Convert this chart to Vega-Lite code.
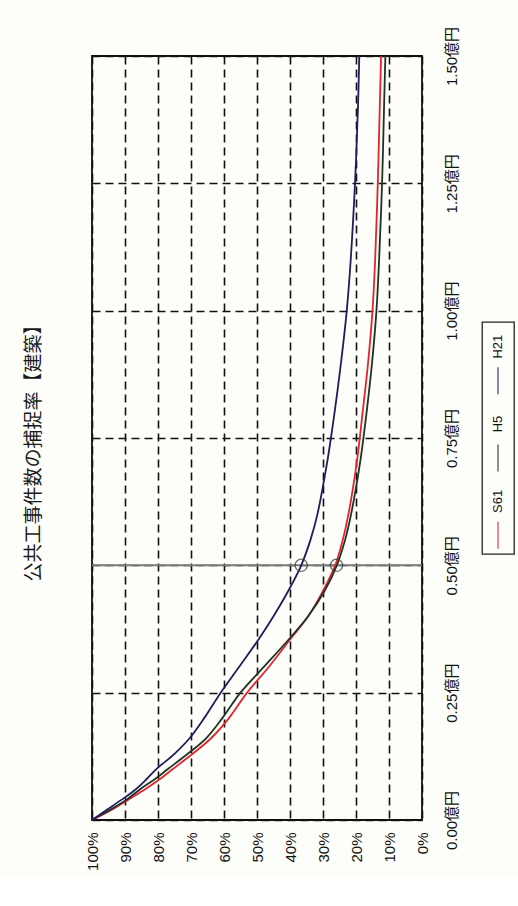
{
  "$schema": "https://vega.github.io/schema/vega-lite/v6.json",
  "background": "#fdfdf9",
  "padding": {"left": 25, "top": 25, "right": 3, "bottom": 5},
  "title": {"text": "公共工事件数の捕捉率【建築】", "orient": "left", "anchor": "middle", "font": "Noto Sans CJK JP", "fontSize": 19, "fontWeight": "normal", "color": "#1a1a1a", "offset": 40},
  "datasets": {
    "curves": [
      {"series": "S61", "amount": 0, "pct": 100},
      {"series": "S61", "amount": 0.02, "pct": 94},
      {"series": "S61", "amount": 0.04, "pct": 89},
      {"series": "S61", "amount": 0.06, "pct": 84},
      {"series": "S61", "amount": 0.08, "pct": 79.5},
      {"series": "S61", "amount": 0.1, "pct": 75.5},
      {"series": "S61", "amount": 0.13, "pct": 69.5},
      {"series": "S61", "amount": 0.16, "pct": 64},
      {"series": "S61", "amount": 0.2, "pct": 58.5},
      {"series": "S61", "amount": 0.25, "pct": 53},
      {"series": "S61", "amount": 0.3, "pct": 46.5},
      {"series": "S61", "amount": 0.35, "pct": 40.5},
      {"series": "S61", "amount": 0.4, "pct": 34.5},
      {"series": "S61", "amount": 0.45, "pct": 30},
      {"series": "S61", "amount": 0.5, "pct": 26.3},
      {"series": "S61", "amount": 0.55, "pct": 24},
      {"series": "S61", "amount": 0.6, "pct": 22.3},
      {"series": "S61", "amount": 0.7, "pct": 19.8},
      {"series": "S61", "amount": 0.8, "pct": 18},
      {"series": "S61", "amount": 0.9, "pct": 16.3},
      {"series": "S61", "amount": 1.0, "pct": 15},
      {"series": "S61", "amount": 1.1, "pct": 14.2},
      {"series": "S61", "amount": 1.25, "pct": 13.4},
      {"series": "S61", "amount": 1.4, "pct": 12.8},
      {"series": "S61", "amount": 1.5, "pct": 12.4},
      {"series": "H5", "amount": 0, "pct": 100},
      {"series": "H5", "amount": 0.02, "pct": 94.5},
      {"series": "H5", "amount": 0.04, "pct": 89.5},
      {"series": "H5", "amount": 0.06, "pct": 85.5},
      {"series": "H5", "amount": 0.08, "pct": 81},
      {"series": "H5", "amount": 0.1, "pct": 77},
      {"series": "H5", "amount": 0.13, "pct": 71},
      {"series": "H5", "amount": 0.16, "pct": 65.5},
      {"series": "H5", "amount": 0.2, "pct": 60.5},
      {"series": "H5", "amount": 0.25, "pct": 55},
      {"series": "H5", "amount": 0.3, "pct": 48},
      {"series": "H5", "amount": 0.35, "pct": 41},
      {"series": "H5", "amount": 0.4, "pct": 34.5},
      {"series": "H5", "amount": 0.45, "pct": 29.5},
      {"series": "H5", "amount": 0.5, "pct": 25.8},
      {"series": "H5", "amount": 0.55, "pct": 23.3},
      {"series": "H5", "amount": 0.6, "pct": 21.5},
      {"series": "H5", "amount": 0.7, "pct": 18.8},
      {"series": "H5", "amount": 0.8, "pct": 16.8},
      {"series": "H5", "amount": 0.9, "pct": 15.1},
      {"series": "H5", "amount": 1.0, "pct": 13.8},
      {"series": "H5", "amount": 1.1, "pct": 13},
      {"series": "H5", "amount": 1.25, "pct": 12.1},
      {"series": "H5", "amount": 1.4, "pct": 11.5},
      {"series": "H5", "amount": 1.5, "pct": 11.1},
      {"series": "H21", "amount": 0, "pct": 100},
      {"series": "H21", "amount": 0.02, "pct": 95.5},
      {"series": "H21", "amount": 0.04, "pct": 91},
      {"series": "H21", "amount": 0.06, "pct": 86.8},
      {"series": "H21", "amount": 0.08, "pct": 83.5},
      {"series": "H21", "amount": 0.1, "pct": 80.5},
      {"series": "H21", "amount": 0.13, "pct": 75},
      {"series": "H21", "amount": 0.16, "pct": 70.5},
      {"series": "H21", "amount": 0.2, "pct": 66},
      {"series": "H21", "amount": 0.25, "pct": 61},
      {"series": "H21", "amount": 0.3, "pct": 55.5},
      {"series": "H21", "amount": 0.35, "pct": 50},
      {"series": "H21", "amount": 0.4, "pct": 45},
      {"series": "H21", "amount": 0.45, "pct": 40.5},
      {"series": "H21", "amount": 0.5, "pct": 36.6},
      {"series": "H21", "amount": 0.55, "pct": 33.8},
      {"series": "H21", "amount": 0.6, "pct": 31.7},
      {"series": "H21", "amount": 0.7, "pct": 28.8},
      {"series": "H21", "amount": 0.8, "pct": 26.5},
      {"series": "H21", "amount": 0.9, "pct": 24.5},
      {"series": "H21", "amount": 1.0, "pct": 22.8},
      {"series": "H21", "amount": 1.1, "pct": 21.6},
      {"series": "H21", "amount": 1.25, "pct": 20.3},
      {"series": "H21", "amount": 1.4, "pct": 19.4},
      {"series": "H21", "amount": 1.5, "pct": 19}
    ],
    "circles": [
      {"amount": 0.5, "pct": 36.6},
      {"amount": 0.5, "pct": 25.9}
    ],
    "legend": [
      {"series": "S61"},
      {"series": "H5"},
      {"series": "H21"}
    ]
  },
  "spacing": 60,
  "bounds": "flush",
  "center": true,
  "hconcat": [
    {
      "width": 330,
      "height": 764,
      "view": {"stroke": "#111", "strokeWidth": 1.8},
      "layer": [
        {
          "data": {"values": [{}]},
          "mark": {"type": "rule", "color": "#7a7a7a", "strokeWidth": 2},
          "encoding": {
            "y": {
              "datum": 0.5, "type": "quantitative",
              "scale": {"domain": [0, 1.5], "nice": false},
              "axis": {
                "orient": "right", "values": [0, 0.25, 0.5, 0.75, 1, 1.25, 1.5],
                "labelExpr": "format(datum.value, '.2f') + '億円'", "labelAngle": -90,
                "labelAlign": "center", "labelBaseline": "top", "labelFontSize": 15,
                "labelFont": "Liberation Sans, Noto Sans CJK JP", "labelColor": "#111",
                "labelPadding": 22, "labelFlush": false, "labelOverlap": false,
                "ticks": false, "domain": false, "grid": true, "gridColor": "#111",
                "gridDash": [8, 5], "gridWidth": 1.6, "title": null
              }
            }
          }
        },
        {
          "data": {"name": "curves"},
          "mark": {"type": "line", "interpolate": "catmull-rom", "strokeWidth": 1.8},
          "encoding": {
            "x": {
              "field": "pct", "type": "quantitative",
              "scale": {"domain": [0, 100], "reverse": true, "nice": false},
              "axis": {
                "orient": "bottom", "values": [0, 10, 20, 30, 40, 50, 60, 70, 80, 90, 100],
                "labelExpr": "datum.value + '%'", "labelAngle": -90, "labelFontSize": 15,
                "labelFont": "Liberation Sans", "labelColor": "#111", "labelPadding": 12,
                "labelFlush": false, "labelOverlap": false,
                "ticks": false, "domain": false, "grid": true, "gridColor": "#111",
                "gridDash": [8, 5], "gridWidth": 1.6, "title": null
              }
            },
            "y": {
              "field": "amount", "type": "quantitative",
              "scale": {"domain": [0, 1.5], "nice": false},
              "axis": {
                "orient": "right", "values": [0, 0.25, 0.5, 0.75, 1, 1.25, 1.5],
                "labelExpr": "format(datum.value, '.2f') + '億円'", "labelAngle": -90,
                "labelAlign": "center", "labelBaseline": "top", "labelFontSize": 15,
                "labelFont": "Liberation Sans, Noto Sans CJK JP", "labelColor": "#111",
                "labelPadding": 22, "labelFlush": false, "labelOverlap": false,
                "ticks": false, "domain": false, "grid": true, "gridColor": "#111",
                "gridDash": [8, 5], "gridWidth": 1.6, "title": null
              }
            },
            "color": {
              "field": "series", "type": "nominal",
              "scale": {"domain": ["S61", "H5", "H21"], "range": ["#e3242b", "#1d3323", "#1e1e5e"]},
              "legend": null
            },
            "order": {"field": "amount", "type": "quantitative"}
          }
        },
        {
          "data": {"name": "circles"},
          "mark": {"type": "point", "shape": "circle", "filled": false, "size": 150, "stroke": "#333", "strokeWidth": 1.3},
          "encoding": {
            "x": {
              "field": "pct", "type": "quantitative",
              "scale": {"domain": [0, 100], "reverse": true, "nice": false},
              "axis": {
                "orient": "bottom", "values": [0, 10, 20, 30, 40, 50, 60, 70, 80, 90, 100],
                "labelExpr": "datum.value + '%'", "labelAngle": -90, "labelFontSize": 15,
                "labelFont": "Liberation Sans", "labelColor": "#111", "labelPadding": 12,
                "labelFlush": false, "labelOverlap": false,
                "ticks": false, "domain": false, "grid": true, "gridColor": "#111",
                "gridDash": [8, 5], "gridWidth": 1.6, "title": null
              }
            },
            "y": {
              "field": "amount", "type": "quantitative",
              "scale": {"domain": [0, 1.5], "nice": false},
              "axis": {
                "orient": "right", "values": [0, 0.25, 0.5, 0.75, 1, 1.25, 1.5],
                "labelExpr": "format(datum.value, '.2f') + '億円'", "labelAngle": -90,
                "labelAlign": "center", "labelBaseline": "top", "labelFontSize": 15,
                "labelFont": "Liberation Sans, Noto Sans CJK JP", "labelColor": "#111",
                "labelPadding": 22, "labelFlush": false, "labelOverlap": false,
                "ticks": false, "domain": false, "grid": true, "gridColor": "#111",
                "gridDash": [8, 5], "gridWidth": 1.6, "title": null
              }
            }
          }
        }
      ]
    },
    {
      "width": 32,
      "height": 232,
      "view": {"stroke": "#222", "strokeWidth": 1.3},
      "data": {"name": "legend"},
      "encoding": {
        "y": {"field": "series", "type": "nominal", "scale": {"domain": ["H21", "H5", "S61"], "paddingInner": 0, "paddingOuter": 0}, "axis": null},
        "x": {"datum": 0, "type": "quantitative", "scale": {"domain": [-1, 1]}, "axis": null}
      },
      "layer": [
        {
          "mark": {"type": "tick", "orient": "vertical", "size": 27, "thickness": 1.5, "yOffset": 20},
          "encoding": {
            "color": {
              "field": "series", "type": "nominal",
              "scale": {"domain": ["S61", "H5", "H21"], "range": ["#e3242b", "#1d3323", "#1e1e5e"]},
              "legend": null
            }
          }
        },
        {
          "mark": {"type": "text", "angle": 270, "fontSize": 13, "yOffset": -14, "align": "center", "baseline": "middle", "color": "#111", "font": "Liberation Sans"},
          "encoding": {"text": {"field": "series"}}
        }
      ]
    }
  ]
}
